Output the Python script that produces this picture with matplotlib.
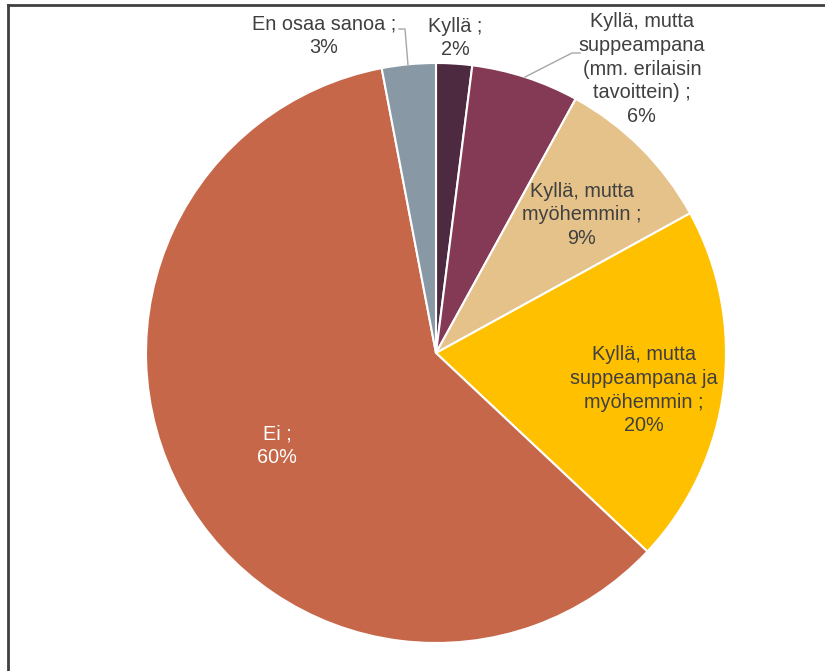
import matplotlib
matplotlib.use("Agg")
import matplotlib.pyplot as plt
import numpy as np

plt.rcParams['font.family'] = ['Liberation Sans', 'DejaVu Sans']

labels = ["Kyllä", "Kyllä, mutta\nsuppeampana\n(mm. erilaisin\ntavoittein)",
          "Kyllä, mutta\nmyöhemmin", "Kyllä, mutta\nsuppeampana ja\nmyöhemmin",
          "Ei", "En osaa sanoa"]
values = [2, 6, 9, 20, 60, 3]
colors = ["#4E2A40", "#843A55", "#E5C28A", "#FFC000", "#C66749", "#8898A5"]
text_colors = ["#404040", "#404040", "#404040", "#404040", "#FFFFFF", "#404040"]
# label positions (data coords, pie radius = 1)
label_pos = [(0.066, 1.086), (0.710, 0.979), (0.503, 0.476), (0.717, -0.128),
             (-0.548, -0.321), (-0.386, 1.093)]

W, H = 825, 671
fig = plt.figure(figsize=(W / 100, H / 100), dpi=100)
cx, cy, R = 436, 353, 290
ax = fig.add_axes([(cx - R) / W, (H - cy - R) / H, 2 * R / W, 2 * R / H])
wedges, _ = ax.pie(values, colors=colors, startangle=90, counterclock=False,
                   radius=1, wedgeprops=dict(edgecolor="white", linewidth=1.5))
ax.set_xlim(-1, 1)
ax.set_ylim(-1, 1)
ax.set_aspect("equal")
ax.axis("off")

for lab, v, (x, y), tc in zip(labels, values, label_pos, text_colors):
    txt = f"{lab} ;\n{v}%"
    ax.text(x, y, txt, ha="center", va="center", fontsize=14.3, color=tc,
            linespacing=1.32, clip_on=False)

def px(p):
    return ((p[0] - cx) / R, (cy - p[1]) / R)

# leader lines
lead_color = "#A6A6A6"
for pts in [[(399, 29), (405, 29), (408, 65)],
            [(580, 53), (572, 53), (525, 77)]]:
    d = [px(p) for p in pts]
    ax.plot([q[0] for q in d], [q[1] for q in d], color=lead_color, lw=1,
            clip_on=False)

# frame lines (screenshot border)
fig.add_artist(plt.Line2D([8 / W, 1], [1 - 5 / H, 1 - 5 / H], color="#404040",
                          lw=2, transform=fig.transFigure))
fig.add_artist(plt.Line2D([8 / W, 8 / W], [0, 1 - 5 / H], color="#404040",
                          lw=2, transform=fig.transFigure))

fig.savefig("out.png", dpi=100, facecolor="white")
